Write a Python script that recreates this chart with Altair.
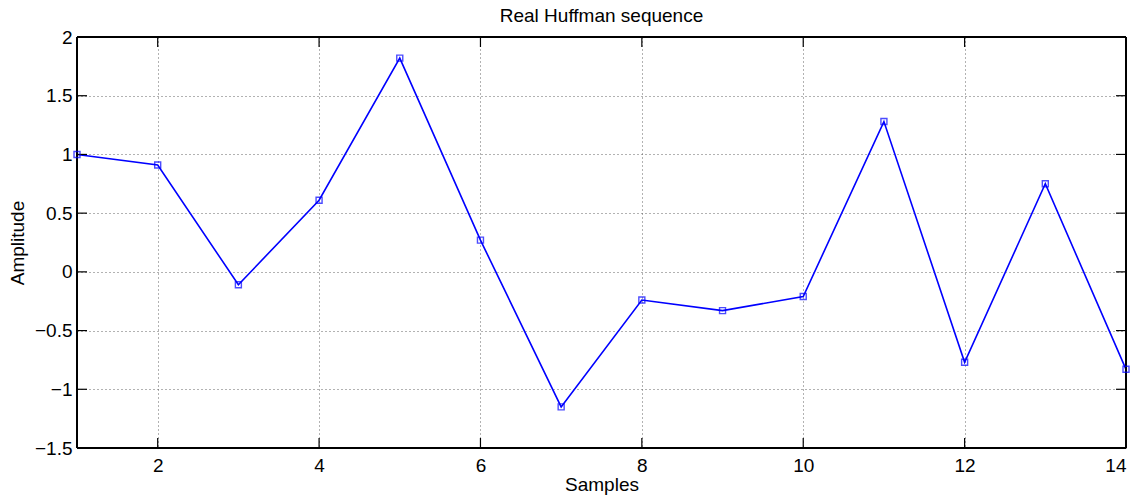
import altair as alt
import pandas as pd

# Real Huffman sequence samples
samples = list(range(1, 15))
amplitude = [1.0, 0.91, -0.11, 0.61, 1.82, 0.27, -1.15, -0.24, -0.33, -0.21,
             1.28, -0.77, 0.75, -0.83]

x_ticks = [2, 4, 6, 8, 10, 12, 14]
y_ticks = [-1.5, -1.0, -0.5, 0.0, 0.5, 1.0, 1.5, 2.0]

W, H = 1049, 411
FONT = "Liberation Sans"
FS = 19
TICK_LEN = 10

df = pd.DataFrame({"Samples": samples, "Amplitude": amplitude})
xt = pd.DataFrame({"t": x_ticks})
yt = pd.DataFrame({"t": y_ticks})

x_scale = alt.Scale(domain=[1, 14], nice=False, zero=False)
y_scale = alt.Scale(domain=[-1.5, 2], nice=False, zero=False)

x_axis = alt.Axis(values=x_ticks, format="d", grid=True, gridDash=[1, 3],
                  gridColor="#555555", gridOpacity=0.9, ticks=False, domain=False,
                  labelFont=FONT, labelFontSize=FS, labelColor="black",
                  labelPadding=8, titleFont=FONT, titleFontSize=FS,
                  titleFontWeight="normal", titleColor="black", titlePadding=0)
y_axis = alt.Axis(values=y_ticks, format="~g", grid=True, gridDash=[1, 3],
                  gridColor="#555555", gridOpacity=0.9, ticks=False, domain=False,
                  labelFont=FONT, labelFontSize=FS, labelColor="black",
                  labelPadding=5, titleFont=FONT, titleFontSize=FS,
                  titleFontWeight="normal", titleColor="black", titlePadding=7)

line = alt.Chart(df).mark_line(color="#0000FF", strokeWidth=1.6).encode(
    x=alt.X("Samples:Q", scale=x_scale, axis=x_axis, title="Samples"),
    y=alt.Y("Amplitude:Q", scale=y_scale, axis=y_axis, title="Amplitude"),
)
points = alt.Chart(df).mark_square(
    size=36, filled=False, color="#0000FF", strokeWidth=1.4
).encode(
    x=alt.X("Samples:Q", scale=x_scale),
    y=alt.Y("Amplitude:Q", scale=y_scale),
)

# inward tick marks on all four sides of the frame
tick_style = dict(color="black", strokeWidth=1.2)
xb = alt.Chart(xt).mark_rule(**tick_style).encode(
    x=alt.X("t:Q", scale=x_scale), y=alt.value(H), y2=alt.value(H - TICK_LEN))
xtop = alt.Chart(xt).mark_rule(**tick_style).encode(
    x=alt.X("t:Q", scale=x_scale), y=alt.value(0), y2=alt.value(TICK_LEN))
yl = alt.Chart(yt).mark_rule(**tick_style).encode(
    y=alt.Y("t:Q", scale=y_scale), x=alt.value(0), x2=alt.value(TICK_LEN))
yr = alt.Chart(yt).mark_rule(**tick_style).encode(
    y=alt.Y("t:Q", scale=y_scale), x=alt.value(W), x2=alt.value(W - TICK_LEN))

# box around the plot area
frame_style = dict(color="black", strokeWidth=1.8)
f_top = alt.Chart(xt).mark_rule(**frame_style).encode(
    x=alt.value(0), x2=alt.value(W), y=alt.value(0))
f_bot = alt.Chart(xt).mark_rule(**frame_style).encode(
    x=alt.value(0), x2=alt.value(W), y=alt.value(H))
f_left = alt.Chart(xt).mark_rule(**frame_style).encode(
    x=alt.value(0), y=alt.value(0), y2=alt.value(H))
f_right = alt.Chart(xt).mark_rule(**frame_style).encode(
    x=alt.value(W), y=alt.value(0), y2=alt.value(H))

chart = alt.layer(
    line, xb, xtop, yl, yr, f_top, f_bot, f_left, f_right, points
).properties(
    width=W,
    height=H,
    title=alt.TitleParams("Real Huffman sequence", font=FONT, fontSize=FS,
                          fontWeight="normal", color="black", anchor="middle",
                          offset=2),
    autosize=alt.AutoSizeParams(type="none"),
    padding={"left": 77, "top": 37, "right": 16, "bottom": 50},
).configure_view(
    strokeWidth=0
).configure(background="white")

chart.save("out.html", embed_options={"renderer": "svg", "actions": False})
